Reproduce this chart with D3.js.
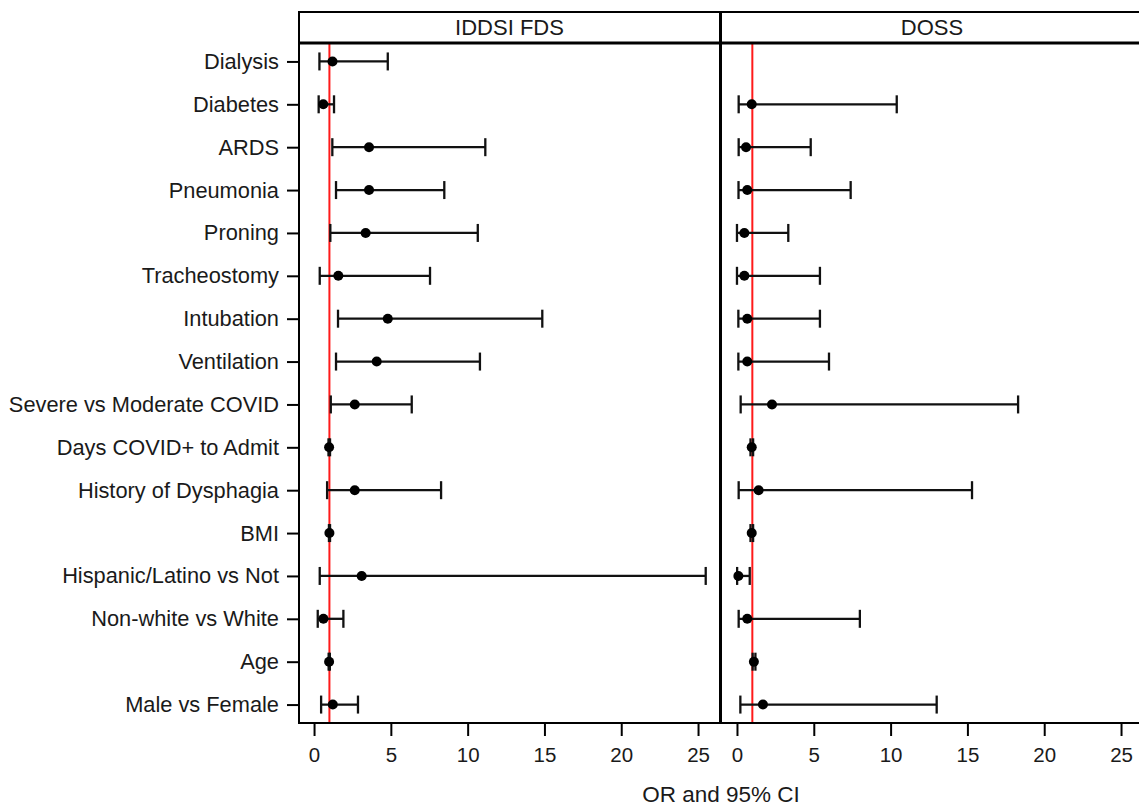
<!DOCTYPE html>
<html>
<head>
<meta charset="utf-8">
<script src="https://cdn.jsdelivr.net/npm/d3@7"></script>
<style>
  body { margin: 0; background: #fff; }
  text { font-family: "Liberation Sans", Arial, sans-serif; fill: #1a1a1a; }
</style>
</head>
<body>
<div id="chart"></div>
<script>
// categorias (de arriba a abajo)
const factors = ["Dialysis", "Diabetes", "ARDS", "Pneumonia", "Proning", "Tracheostomy", "Intubation",
  "Ventilation", "Severe vs Moderate COVID", "Days COVID+ to Admit", "History of Dysphagia", "BMI",
  "Hispanic/Latino vs Not", "Non-white vs White", "Age", "Male vs Female"];

// IDDSI FDS: OR, limite inferior, limite superior
const iddsiOR    = [1.2, 0.6, 3.58, 3.58, 3.36, 1.58, 4.8, 4.08, 2.65, 0.98, 2.65, 1.0, 3.1, 0.61, 0.98, 1.22];
const iddsiLower = [0.35, 0.3, 1.19, 1.43, 1.06, 0.37, 1.56, 1.43, 1.09, 0.94, 0.85, 0.97, 0.37, 0.24, 0.95, 0.46];
const iddsiUpper = [4.8, 1.3, 11.15, 8.48, 10.66, 7.55, 14.86, 10.8, 6.36, 1.04, 8.27, 1.04, 25.5, 1.91, 1.03, 2.86];

// DOSS (sin dato para Dialysis)
const dossOR    = [null, 0.96, 0.59, 0.67, 0.48, 0.48, 0.67, 0.67, 2.28, 0.96, 1.41, 0.96, 0.09, 0.67, 1.1, 1.69];
const dossLower = [null, 0.11, 0.11, 0.1, 0.0, 0.0, 0.09, 0.09, 0.24, 0.88, 0.11, 0.88, 0.01, 0.11, 1.02, 0.22];
const dossUpper = [null, 10.4, 4.8, 7.4, 3.34, 5.4, 5.4, 5.99, 18.3, 1.05, 15.3, 1.05, 0.83, 8.0, 1.2, 13.0];

const xTicks = [0, 5, 10, 15, 20, 25];
const panelTitles = ["IDDSI FDS", "DOSS"];
const refLine = 1;

// ----------------------------------------------------------

const width = 1139;
const height = 807;
const plotTop = 12, headerH = 31, plotBottom = 723;

const svg = d3.select("div#chart").append("svg").attr("width", width).attr("height", height)

const y = d3.scalePoint().domain(factors).range([headerH + plotTop, plotBottom]).padding(0.43)

const panels = [
  { title: panelTitles[0], x: d3.scaleLinear().domain([-0.98, 26.43]).range([299, 720]),
    data: factors.map((f, i) => ({ f, or: iddsiOR[i], lo: iddsiLower[i], hi: iddsiUpper[i] })) },
  { title: panelTitles[1], x: d3.scaleLinear().domain([-1.04, 26.43]).range([721, 1143]),
    data: factors.map((f, i) => ({ f, or: dossOR[i], lo: dossLower[i], hi: dossUpper[i] })).filter(d => d.or !== null) }
];

panels.forEach((p, pi) => {
  const [x0, x1] = p.x.range();
  const g = svg.append("g").attr("class", "panel")

  // linea de referencia OR = 1
  g.append("line")
    .attr("x1", p.x(refLine)).attr("x2", p.x(refLine))
    .attr("y1", plotTop + headerH).attr("y2", plotBottom)
    .attr("stroke", "#ff1a1a").attr("stroke-width", 2)

  // intervalos
  const cap = 9;
  const bars = g.selectAll(".ci").data(p.data).enter().append("g").attr("class", "ci")
    .attr("stroke", "#111").attr("stroke-width", 2.3)
  bars.append("line").attr("x1", d => p.x(d.lo)).attr("x2", d => p.x(d.hi))
    .attr("y1", d => y(d.f)).attr("y2", d => y(d.f))
  bars.append("line").attr("x1", d => p.x(d.lo)).attr("x2", d => p.x(d.lo))
    .attr("y1", d => y(d.f) - cap).attr("y2", d => y(d.f) + cap)
  bars.append("line").attr("x1", d => p.x(d.hi)).attr("x2", d => p.x(d.hi))
    .attr("y1", d => y(d.f) - cap).attr("y2", d => y(d.f) + cap)

  g.selectAll(".dot").data(p.data).enter().append("circle")
    .attr("class", "dot")
    .attr("cx", d => p.x(d.or)).attr("cy", d => y(d.f)).attr("r", 5)
    .attr("fill", "#000")

  // marcos
  g.append("rect").attr("x", x0).attr("y", plotTop).attr("width", x1 - x0).attr("height", plotBottom - plotTop)
    .attr("fill", "none").attr("stroke", "#000").attr("stroke-width", 2)
  g.append("line").attr("x1", x0).attr("x2", x1).attr("y1", plotTop + headerH).attr("y2", plotTop + headerH)
    .attr("stroke", "#000").attr("stroke-width", 3)
  g.append("text").attr("x", (x0 + x1) / 2).attr("y", plotTop + 23)
    .attr("text-anchor", "middle").style("font-size", "22px").text(p.title)

  // eje x
  const xAxis = d3.axisBottom(p.x).tickValues(xTicks).tickSize(13).tickPadding(11).tickSizeOuter(0)
  const xg = svg.append("g").attr("transform", `translate(0, ${plotBottom})`).call(xAxis)
  xg.select(".domain").remove()
  xg.selectAll("line").attr("stroke", "#000").attr("stroke-width", 2)
  xg.selectAll("text").style("font-size", "20.5px").attr("fill", "#1a1a1a")
});

// eje y
const yAxis = d3.axisLeft(y).tickSize(12).tickPadding(8)
const yg = svg.append("g").attr("transform", "translate(299, 0)").call(yAxis)
yg.select(".domain").remove()
yg.selectAll("line").attr("stroke", "#000").attr("stroke-width", 2)
yg.selectAll("text").style("font-size", "21.8px").attr("fill", "#1a1a1a")

svg.append("text").attr("x", 721).attr("y", 802).attr("text-anchor", "middle")
  .style("font-size", "22.5px").text("OR and 95% CI")
</script>
</body>
</html>
